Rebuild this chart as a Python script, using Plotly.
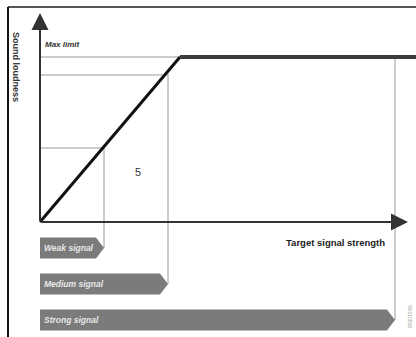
import plotly.graph_objects as go

# ---- data (diagram units: origin at axis crossing) ----
signal_names = ["Weak signal", "Medium signal", "Strong signal"]
signal_strength = [64, 128, 355]          # x position where each band ends
loudness_levels = [74, 147]               # loudness reached by weak / medium
max_limit = 165                           # loudness limit
limit_start = 140                         # signal where limit is reached
x_axis_end = 368
y_axis_end = 209
band_centers = [-26, -62, -98]
band_height = 21
marker_label = "5"
marker_pos = (98, 50)

GUIDE = "#cdcdcd"
BAND = "#7b7b7b"

fig = go.Figure()

# guide lines
gx, gy = [], []
for s, l, c in zip(signal_strength[:2], loudness_levels, band_centers[:2]):
    gx += [0, s, s, None]
    gy += [l, l, c, None]
gx += [0, limit_start, None, signal_strength[2], signal_strength[2]]
gy += [max_limit, max_limit, None, max_limit, band_centers[2]]
fig.add_trace(go.Scatter(x=gx, y=gy, mode="lines",
                         line=dict(color=GUIDE, width=2), hoverinfo="skip"))

# response curve
fig.add_trace(go.Scatter(x=[0, limit_start], y=[0, max_limit], mode="lines",
                         line=dict(color="#111111", width=3), hoverinfo="skip"))
fig.add_trace(go.Scatter(x=[limit_start, 380], y=[max_limit, max_limit], mode="lines",
                         line=dict(color="#3a3a3a", width=4), hoverinfo="skip"))

# bands
for name, s, c in zip(signal_names, signal_strength, band_centers):
    h = band_height / 2
    fig.add_trace(go.Scatter(
        x=[0, s - 8, s, s - 8, 0, 0],
        y=[c + h, c + h, c, c - h, c - h, c + h],
        mode="lines", fill="toself", fillcolor=BAND,
        line=dict(color=BAND, width=0), hoverinfo="skip"))
    fig.add_annotation(x=2, y=c, text=f"<b><i>{name}</i></b>", showarrow=False,
                       xanchor="left", yanchor="middle",
                       font=dict(size=8.5, color="#e8e8e8", family="Liberation Sans"))

# axes arrows
fig.add_annotation(x=x_axis_end, y=0, ax=0, ay=0, axref="x", ayref="y",
                   xref="x", yref="y", text="", showarrow=True,
                   arrowhead=2, arrowsize=1.7, arrowwidth=2, arrowcolor="#333333")
fig.add_annotation(x=0, y=y_axis_end, ax=0, ay=0, axref="x", ayref="y",
                   xref="x", yref="y", text="", showarrow=True,
                   arrowhead=2, arrowsize=1.7, arrowwidth=2, arrowcolor="#333333")

# texts
fig.add_annotation(x=3, y=178, text="<b><i>Max limit</i></b>", showarrow=False,
                   xanchor="left", yanchor="middle",
                   font=dict(size=8, color="#333333", family="Liberation Sans"))
fig.add_annotation(x=347, y=-20, text="<b>Target signal strength</b>", showarrow=False,
                   xanchor="right", yanchor="middle",
                   font=dict(size=9.5, color="#222222", family="Liberation Sans"))
fig.add_annotation(x=-24, y=155, text="<b>Sound loudness</b>", showarrow=False,
                   textangle=90, xanchor="center", yanchor="middle",
                   font=dict(size=9, color="#333333", family="Liberation Sans"))
fig.add_annotation(x=marker_pos[0], y=marker_pos[1], text=marker_label, showarrow=False,
                   font=dict(size=11, color="#333333", family="Liberation Sans"))
fig.add_annotation(x=370, y=-94, text="N0010516", showarrow=False, textangle=90,
                   font=dict(size=5, color="#9a9a9a", family="Liberation Sans"))

# frame
fig.add_shape(type="line", xref="paper", yref="paper", x0=8/416, x1=1.0,
              y0=1 - 7/337, y1=1 - 7/337, line=dict(color="#555555", width=2))
fig.add_shape(type="line", xref="paper", yref="paper", x0=8/416, x1=8/416,
              y0=0, y1=1 - 7/337, line=dict(color="#111111", width=2))

fig.update_layout(
    width=416, height=337, margin=dict(l=0, r=0, t=0, b=0),
    paper_bgcolor="white", plot_bgcolor="white", showlegend=False,
    xaxis=dict(range=[-40, 376], visible=False, fixedrange=True),
    yaxis=dict(range=[-115, 222], visible=False, fixedrange=True),
)
fig.write_html("out.html", config={"displayModeBar": False},
               post_script="document.body.style.margin='0';")
